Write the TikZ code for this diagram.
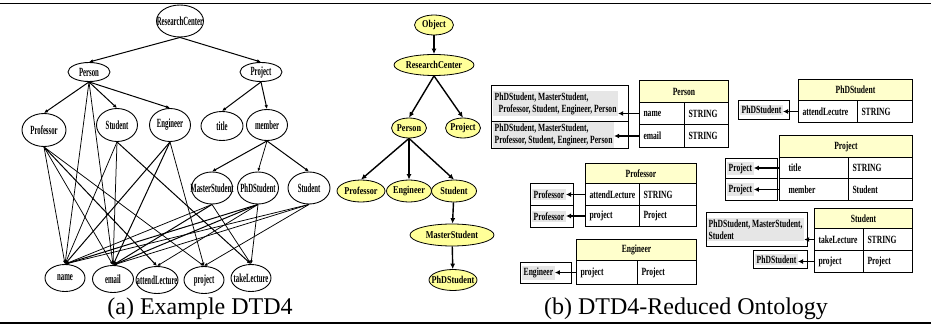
\documentclass[tikz,border=0pt]{standalone}
\usepackage{fontspec}
\setmainfont{Liberation Serif}
\newfontfamily\dtdfont[UprightFont=* Bold, FakeStretch=0.54]{Liberation Serif}
\newfontfamily\ontofont[UprightFont=* Bold, FakeStretch=0.78]{Liberation Serif}
\newfontfamily\tabfont[UprightFont=* Bold, FakeStretch=0.69]{Liberation Serif}
\usetikzlibrary{arrows.meta}
\usetikzlibrary{shapes.geometric}

\definecolor{ontoyellow}{RGB}{255,255,153}
\definecolor{headyellow}{RGB}{255,255,204}
\definecolor{domgray}{RGB}{230,230,230}

\begin{document}
\begin{tikzpicture}[x=1pt, y=-1pt,
        dtd/.style={draw, ellipse, line width=0.9pt, inner xsep=-20pt, inner ysep=0pt,
            font=\dtdfont\fontsize{12.5}{13}\selectfont},
        onto/.style={draw, ellipse, fill=ontoyellow, line width=0.8pt, inner xsep=-20pt, inner ysep=0pt,
            minimum height=21pt, font=\ontofont\fontsize{10.5}{12}\selectfont},
        cell/.style 2 args={draw, line width=1pt, anchor=north west, inner xsep=4pt, inner ysep=0pt,
            text width=#1, minimum height=#2, align=left,
            font=\tabfont\fontsize{11}{12}\selectfont},
        head/.style 2 args={cell={#1}{#2}, fill=headyellow, align=center},
        dombox/.style 2 args={draw, line width=1pt, anchor=north west, inner sep=0pt,
            minimum width=#1, minimum height=#2},
        dom/.style={fill=domgray, anchor=west, inner sep=1.5pt, align=left,
            font=\tabfont\fontsize{11}{12}\selectfont},
        uparrow/.style={-{Latex[length=4pt,width=3.5pt]}, line width=1pt},
        leafarrow/.style={-{Latex[length=3.5pt,width=3pt]}, line width=0.75pt},
        ontoarrow/.style={-{Latex[length=5.5pt,width=5pt]}, line width=1.4pt},
        link/.style={-{Latex[length=5pt,width=5pt]}, line width=1.2pt}]
        \useasboundingbox (0,0) rectangle (931,326);
        \draw[line width=1.5pt] (0,3.5) -- (931,3.5);
        \draw[line width=2pt] (0,323) -- (931,323);

        \node[dtd, minimum width=47pt, minimum height=32pt] (rc) at (180,21) {ResearchCenter};
        \node[dtd, minimum width=42pt, minimum height=19pt] (person) at (89,72) {Person};
        \node[dtd, minimum width=42pt, minimum height=19pt] (project) at (261,72) {Project};
        \node[dtd, minimum width=44pt, minimum height=33pt] (prof) at (44,130) {Professor};
        \node[dtd, minimum width=41pt, minimum height=33pt] (stud) at (117,125) {Student};
        \node[dtd, minimum width=41pt, minimum height=33pt] (eng) at (170,125) {Engineer};
        \node[dtd, minimum width=42pt, minimum height=29pt] (title) at (222,126) {title};
        \node[dtd, minimum width=41pt, minimum height=31pt] (member) at (267,125) {member};
        \node[dtd, minimum width=41pt, minimum height=32pt] (master) at (212,188) {MasterStudent};
        \node[dtd, minimum width=41pt, minimum height=32pt] (phd) at (258,188) {PhDStudent};
        \node[dtd, minimum width=42pt, minimum height=32pt] (stud2) at (309,188) {Student};
        \node[dtd, minimum width=40pt, minimum height=27pt] (name) at (65,278) {name};
        \node[dtd, minimum width=41pt, minimum height=27pt] (email) at (113,279) {email};
        \node[dtd, minimum width=42pt, minimum height=27pt] (attend) at (157,280) {attendLecture};
        \node[dtd, minimum width=40pt, minimum height=27pt] (proj) at (204,280) {project};
        \node[dtd, minimum width=40pt, minimum height=27pt] (take) at (251,278) {takeLecture};

        \draw[uparrow] (rc.south) -- (person.north);
        \draw[uparrow] (rc.south) -- (project.north);
        \draw[uparrow] (person.south) -- (prof.north);
        \draw[uparrow] (person.south) -- (stud.north);
        \draw[uparrow] (person.south) -- (eng.north);
        \draw[uparrow] (project.south) -- (title.north);
        \draw[uparrow] (project.south) -- (member.north);
        \draw[uparrow] (member.south) -- (master.north);
        \draw[leafarrow] (member.south) -- (phd.north);
        \draw[uparrow] (member.south) -- (stud2.north);
        \draw[leafarrow] (person.south) -- (name.north);
        \draw[leafarrow] (person.south) -- (email.north);
        \draw[leafarrow] (prof.south) -- (name.north);
        \draw[leafarrow] (prof.south) -- (email.north);
        \draw[uparrow] (prof.south) -- (attend.north);
        \draw[leafarrow] (prof.south) -- (proj.north);
        \draw[leafarrow] (stud.south) -- (name.north);
        \draw[leafarrow] (stud.south) -- (email.north);
        \draw[uparrow] (stud.south) -- (take.north);
        \draw[uparrow] (eng.south) -- (name.north);
        \draw[uparrow] (eng.south) -- (email.north);
        \draw[leafarrow] (eng.south) -- (proj.north);
        \draw[leafarrow] (master.south) -- (name.north);
        \draw[uparrow] (master.south) -- (email.north);
        \draw[leafarrow] (master.south) -- (take.north);
        \draw[uparrow] (phd.south) -- (name.north);
        \draw[uparrow] (phd.south) -- (email.north);
        \draw[leafarrow] (phd.south) -- (attend.north);
        \draw[leafarrow] (phd.south) -- (take.north);
        \draw[leafarrow] (stud2.south) -- (name.north);
        \draw[leafarrow] (stud2.south) -- (email.north);
        \draw[leafarrow] (stud2.south) -- (proj.north);

        \node[onto, minimum width=39pt, minimum height=20pt] (oobj) at (434,25) {Object};
        \node[onto, minimum width=80pt] (orc) at (434,65) {ResearchCenter};
        \node[onto, minimum width=35pt, minimum height=20pt] (operson) at (409,128) {Person};
        \node[onto, minimum width=35pt, minimum height=20pt] (oproject) at (463,128) {Project};
        \node[onto, minimum width=48pt, minimum height=22pt] (oprof) at (361,191) {Professor};
        \node[onto, minimum width=45pt, minimum height=22pt] (oeng) at (409,191) {Engineer};
        \node[onto, minimum width=45pt, minimum height=22pt] (ostud) at (454,191) {Student};
        \node[onto, minimum width=84pt, minimum height=22pt] (omaster) at (452,235) {MasterStudent};
        \node[onto, minimum width=48pt] (ophd) at (453,280) {PhDStudent};

        \draw[ontoarrow] (oobj) -- (orc);
        \draw[ontoarrow] (orc.south) -- (operson.north);
        \draw[ontoarrow] (orc.south) -- (oproject.north);
        \draw[ontoarrow] (operson.south) -- (oprof.north);
        \draw[ontoarrow] (operson.south) -- (oeng.north);
        \draw[ontoarrow] (operson.south) -- (ostud.north);
        \draw[ontoarrow] (ostud) -- (omaster);
        \draw[ontoarrow] (omaster) -- (ophd);

        \node[head={81pt}{22pt}] (personhd) at (639,80) {Person};
        \node[cell={37pt}{22pt}] (personname) at (639,102) {name};
        \node[cell={36pt}{22pt}] (personnamet) at (684,102) {STRING};
        \node[cell={37pt}{23pt}] (personemail) at (639,124) {email};
        \node[cell={36pt}{23pt}] (personemailt) at (684,124) {STRING};
        \node[dombox={137pt}{36pt}] (persondomA) at (491,85) {};
        \node[dombox={137pt}{27pt}] (persondomB) at (491,121) {};
        \node[dom] (persondomAt) at ([xshift=2pt]persondomA.west) {PhDStudent, MasterStudent,\\\hspace{4pt}Professor, Student, Engineer, Person};
        \node[dom] (persondomBt) at ([xshift=2pt]persondomB.west) {PhDStudent, MasterStudent,\\Professor, Student, Engineer, Person};
        \draw[link] (personname.west) -- (personname.west -| persondomAt.east);
        \draw[link] (personemail.west) -- (personemail.west -| persondomBt.east);

        \node[head={106pt}{21pt}] (phdhd) at (798,79) {PhDStudent};
        \node[cell={51pt}{22pt}] (phdattend) at (798,100) {attendLecutre};
        \node[cell={47pt}{22pt}] (phdattendt) at (857,100) {STRING};
        \node[dombox={51pt}{19pt}] (phddom) at (738,100) {};
        \node[dom] (phddomt) at ([xshift=2pt]phddom.west) {PhDStudent};
        \draw[link] (phdattend.west) -- (phdattend.west -| phddomt.east);

        \node[head={125pt}{22pt}] (projecthd) at (779,135) {Project};
        \node[cell={61pt}{21pt}] (projecttitle) at (779,157) {\hspace{5pt}title};
        \node[cell={56pt}{21pt}] (projecttitlet) at (848,157) {STRING};
        \node[cell={61pt}{22pt}] (projectmember) at (779,178) {\hspace{5pt}member};
        \node[cell={56pt}{22pt}] (projectmembert) at (848,178) {Student};
        \node[dombox={52pt}{20pt}] (projectdomA) at (725,158) {};
        \node[dombox={52pt}{22pt}] (projectdomB) at (725,178) {};
        \node[dom] (projectdomAt) at ([xshift=2pt]projectdomA.west) {Project};
        \node[dom] (projectdomBt) at ([xshift=2pt]projectdomB.west) {Project};
        \draw[link] (projecttitle.west) -- (projecttitle.west -| projectdomAt.east);
        \draw[link] (projectmember.west) -- (projectmember.west -| projectdomBt.east);

        \node[head={90pt}{20pt}] (studenthd) at (814,208) {Student};
        \node[cell={41pt}{22pt}] (studenttake) at (814,228) {takeLecture};
        \node[cell={41pt}{22pt}] (studenttaket) at (863,228) {STRING};
        \node[cell={41pt}{22pt}] (studentproject) at (814,250) {project};
        \node[cell={41pt}{22pt}] (studentprojectt) at (863,250) {Project};
        \node[dombox={101pt}{34pt}] (studentdomA) at (706,212) {};
        \node[dombox={54pt}{18pt}] (studentdomB) at (753,250) {};
        \node[dom] (studentdomAt) at ([xshift=1pt]studentdomA.west) {PhDStudent, MasterStudent,\\Student};
        \node[dom] (studentdomBt) at ([xshift=2pt]studentdomB.west) {PhDStudent};
        \draw[link] (studenttake.west) -- (studenttake.west -| studentdomAt.east);
        \draw[link] (studentproject.west) -- (studentproject.west -| studentdomBt.east);

        \node[head={103pt}{20pt}] (profhd) at (585,163) {Professor};
        \node[cell={46pt}{22pt}] (profattend) at (585,183) {attendLecture};
        \node[cell={49pt}{22pt}] (profattendt) at (639,183) {STRING};
        \node[cell={46pt}{21pt}] (profproject) at (585,205) {project};
        \node[cell={49pt}{21pt}] (profprojectt) at (639,205) {Project};
        \node[dombox={43pt}{22pt}] (profdomA) at (530,183) {};
        \node[dombox={43pt}{22pt}] (profdomB) at (530,205) {};
        \node[dom] (profdomAt) at ([xshift=2pt]profdomA.west) {Professor};
        \node[dom] (profdomBt) at ([xshift=2pt]profdomB.west) {Professor};
        \draw[link] (profattend.west) -- (profattend.west -| profdomAt.east);
        \draw[link] (profproject.west) -- (profproject.west -| profdomBt.east);

        \node[head={112pt}{21pt}] (enghd) at (576,239) {Engineer};
        \node[cell={53pt}{24pt}] (engproject) at (576,260) {project};
        \node[cell={51pt}{24pt}] (engprojectt) at (637,260) {Project};
        \node[dombox={51pt}{21pt}] (engdom) at (520,262) {};
        \node[dom] (engdomt) at ([xshift=2pt]engdom.west) {Engineer};
        \draw[link] (engproject.west) -- (engproject.west -| engdomt.east);

        \node[anchor=base, font=\fontsize{24}{28}\selectfont] (capa) at (200,314) {(a) Example DTD4};
        \node[anchor=base, font=\fontsize{24}{28}\selectfont] (capb) at (686,314) {(b) DTD4-Reduced Ontology};
    \end{tikzpicture}
\end{document}
